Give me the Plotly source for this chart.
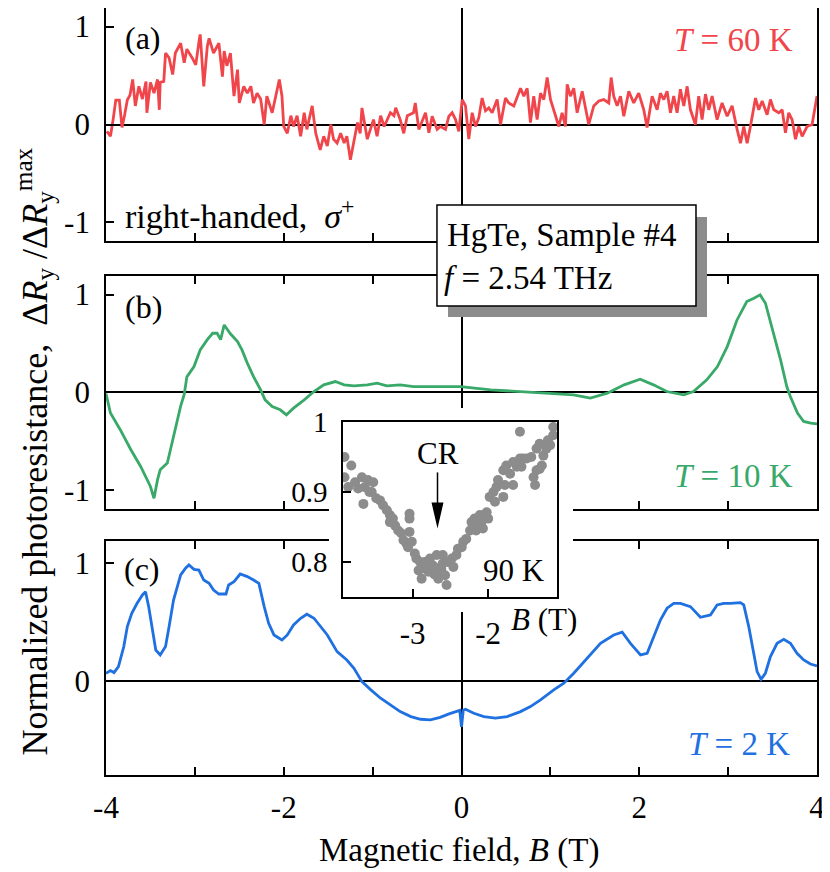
import plotly.graph_objects as go

# ---------------- data ----------------
# Panel (a): T = 60 K (red, noisy)
B_a = [-3.99, -3.95, -3.92, -3.89, -3.85, -3.82, -3.79, -3.76, -3.73, -3.70, -3.67, -3.63, -3.59, -3.55, -3.54,
       -3.50, -3.46, -3.42, -3.40, -3.39, -3.35, -3.33, -3.29, -3.25, -3.22, -3.16, -3.12, -3.09, -3.03, -2.99,
       -2.95, -2.94, -2.90, -2.86, -2.84, -2.79, -2.73, -2.69, -2.67, -2.64, -2.60, -2.56, -2.52, -2.50, -2.45,
       -2.41, -2.37, -2.34, -2.30, -2.26, -2.22, -2.19, -2.13, -2.05, -2.02, -2.00, -1.96, -1.92, -1.89, -1.85,
       -1.81, -1.77, -1.74, -1.68, -1.64, -1.59, -1.55, -1.51, -1.47, -1.44, -1.40, -1.36, -1.32, -1.29, -1.25,
       -1.17, -1.14, -1.12, -1.06, -1.02, -0.99, -0.95, -0.91, -0.87, -0.80, -0.76, -0.74, -0.69, -0.65, -0.61,
       -0.54, -0.52, -0.48, -0.405, -0.367, -0.33, -0.274, -0.236, -0.18, -0.142, -0.105, -0.067, -0.03, 0.008,
       0.045, 0.082, 0.12, 0.157, 0.195, 0.232, 0.27, 0.307, 0.345, 0.401, 0.439, 0.495, 0.532, 0.589, 0.626,
       0.664, 0.701, 0.739, 0.776, 0.813, 0.851, 0.889, 0.926, 0.964, 1.001, 1.038, 1.095, 1.132, 1.17, 1.189,
       1.226, 1.263, 1.301, 1.358, 1.395, 1.432, 1.488, 1.545, 1.601, 1.657, 1.684, 1.713, 1.751, 1.789, 1.826,
       1.882, 1.938, 1.994, 2.051, 2.088, 2.145, 2.201, 2.238, 2.276, 2.313, 2.351, 2.388, 2.426, 2.463, 2.501,
       2.539, 2.576, 2.632, 2.669, 2.707, 2.745, 2.782, 2.82, 2.876, 2.932, 2.989, 3.045, 3.101, 3.139, 3.176,
       3.214, 3.251, 3.308, 3.345, 3.383, 3.439, 3.476, 3.514, 3.57, 3.608, 3.645, 3.682, 3.72, 3.758, 3.795,
       3.833, 3.889, 3.945, 4.0]
R_a = [-0.07, -0.12, 0.05, 0.25, 0.25, -0.03, 0.10, 0.25, 0.30, 0.46, 0.19, 0.39, 0.26, 0.44, 0.12,
       0.43, 0.32, 0.46, 0.15, 0.43, 0.44, 0.73, 0.68, 0.51, 0.73, 0.83, 0.63, 0.77, 0.68, 0.61,
       0.87, 0.92, 0.39, 0.80, 0.88, 0.73, 0.83, 0.49, 0.75, 0.60, 0.73, 0.29, 0.56, 0.22, 0.39,
       0.32, 0.39, 0.22, 0.32, 0.26, 0.00, 0.29, 0.12, 0.46, 0.29, -0.02, -0.09, 0.09, -0.02, 0.09,
       -0.12, 0.12, -0.05, 0.19, -0.09, -0.26, -0.12, -0.22, 0.00, -0.15, -0.19, -0.09, -0.19, -0.12, -0.36,
       0.02, -0.09, 0.17, -0.15, -0.02, 0.05, -0.12, 0.09, -0.02, 0.12, 0.09, 0.17, 0.05, -0.09, 0.09,
       0.12, 0.22, -0.05, 0.12, -0.085, 0.085, -0.05, -0.02, -0.05, 0.085, 0.12, 0.05, -0.07, 0.255,
       0.19, -0.15, 0.12, -0.02, 0.07, 0.27, 0.14, 0.17, 0.12, 0.255, 0.00, 0.27, 0.22, 0.19, 0.27,
       0.37, 0.29, 0.37, 0.02, 0.29, 0.05, 0.32, 0.255, 0.48, 0.255, 0.15, -0.02, 0.12, -0.02, 0.41,
       0.29, 0.37, 0.12, 0.34, 0.15, 0.00, 0.19, 0.24, 0.255, 0.22, 0.48, 0.29, 0.19, 0.29, 0.085,
       0.34, 0.22, 0.32, 0.15, -0.03, 0.29, 0.15, 0.32, 0.255, 0.34, 0.12, 0.29, 0.12, 0.36, 0.19,
       0.39, 0.15, 0.00, 0.29, 0.05, 0.31, 0.15, 0.29, 0.05, 0.22, 0.085, 0.19, -0.05, -0.19, -0.02,
       -0.19, -0.02, 0.27, 0.15, 0.24, 0.10, 0.255, 0.15, 0.12, 0.15, -0.085, 0.12, 0.05, -0.15, -0.02,
       -0.12, -0.02, 0.00, 0.29]

# Panel (b): T = 10 K (green)
B_b = [-4.0, -3.95, -3.84, -3.72, -3.61, -3.50, -3.46, -3.42, -3.39, -3.31, -3.24, -3.16, -3.12, -3.09,
       -3.01, -2.94, -2.86, -2.80, -2.75, -2.71, -2.67, -2.60, -2.52, -2.47, -2.41, -2.34, -2.26, -2.21,
       -2.13, -2.04, -1.97, -1.89, -1.77, -1.66, -1.55, -1.42, -1.32, -1.21, -1.06, -0.95, -0.84, -0.69,
       -0.54, -0.39, -0.24, -0.01, 0.33, 0.70, 1.08, 1.26, 1.45, 1.64, 1.83, 2.01, 2.16, 2.31, 2.50,
       2.61, 2.76, 2.88, 2.99, 3.10, 3.21, 3.29, 3.36, 3.42, 3.51, 3.59, 3.66, 3.70, 3.78, 3.85, 3.93, 4.0]
R_b = [-0.01, -0.21, -0.38, -0.585, -0.755, -0.96, -1.08, -0.89, -0.79, -0.72, -0.45, -0.14, -0.02, 0.16,
       0.265, 0.435, 0.54, 0.605, 0.605, 0.54, 0.69, 0.60, 0.52, 0.435, 0.30, 0.163, 0.027, -0.075,
       -0.143, -0.177, -0.228, -0.16, -0.075, 0.01, 0.078, 0.112, 0.078, 0.068, 0.078, 0.095, 0.068, 0.078,
       0.061, 0.061, 0.061, 0.061, 0.027, 0.01, -0.014, -0.024, -0.058, -0.007, 0.078, 0.136, 0.078, 0.01, -0.024,
       0.01, 0.129, 0.265, 0.469, 0.741, 0.929, 0.963, 0.997, 0.912, 0.605, 0.333, 0.061, -0.041, -0.211, -0.296,
       -0.313, -0.32]

# Panel (c): T = 2 K (blue)
B_c = [-4.0, -3.95, -3.91, -3.86, -3.80, -3.76, -3.71, -3.65, -3.59, -3.555, -3.52, -3.48, -3.44, -3.39,
       -3.33, -3.29, -3.24, -3.16, -3.105, -3.067, -3.01, -2.955, -2.90, -2.84, -2.79, -2.73, -2.65, -2.62,
       -2.56, -2.49, -2.41, -2.34, -2.28, -2.22, -2.17, -2.11, -2.02, -1.96, -1.89, -1.81, -1.74, -1.66,
       -1.59, -1.51, -1.40, -1.29, -1.21, -1.12, -1.02, -0.91, -0.80, -0.69, -0.57, -0.46, -0.35, -0.24,
       -0.14, -0.05, -0.02, 0.0, 0.02, 0.045, 0.139, 0.251, 0.382, 0.514, 0.664, 0.776, 0.889, 1.038, 1.151,
       1.263, 1.414, 1.564, 1.713, 1.808, 1.901, 2.014, 2.089, 2.163, 2.238, 2.313, 2.388, 2.463, 2.576,
       2.688, 2.801, 2.876, 2.951, 3.026, 3.138, 3.176, 3.232, 3.288, 3.326, 3.371, 3.419, 3.476, 3.551,
       3.626, 3.701, 3.775, 3.851, 3.926, 4.0]
R_c = [0.065, 0.088, 0.071, 0.122, 0.292, 0.462, 0.575, 0.66, 0.731, 0.759, 0.632, 0.433, 0.263, 0.221,
       0.292, 0.462, 0.688, 0.901, 0.958, 0.986, 0.949, 0.943, 0.858, 0.83, 0.773, 0.739, 0.739, 0.816,
       0.844, 0.909, 0.887, 0.858, 0.83, 0.632, 0.49, 0.391, 0.348, 0.391, 0.476, 0.533, 0.567, 0.533,
       0.462, 0.391, 0.249, 0.178, 0.108, -0.006, -0.076, -0.147, -0.204, -0.261, -0.303, -0.326, -0.331, -0.31,
       -0.28, -0.255, -0.25, -0.39, -0.25, -0.241, -0.275, -0.303, -0.317, -0.303, -0.261, -0.218, -0.161, -0.076, -0.02,
       0.065, 0.193, 0.32, 0.391, 0.414, 0.32, 0.221, 0.235, 0.377, 0.518, 0.618, 0.66, 0.66, 0.632,
       0.541, 0.561, 0.646, 0.66, 0.66, 0.666, 0.646, 0.462, 0.235, 0.079, 0.014, 0.065, 0.207, 0.32,
       0.354, 0.32, 0.235, 0.178, 0.144, 0.127]

# Inset: 90 K (gray points)
B_in = [-3.90, -3.81, -3.90, -3.85, -3.76, -3.67, -3.63, -3.59, -3.52, -3.65, -3.54, -3.48, -3.43, -3.39,
        -3.34, -3.30, -3.30, -3.26, -3.23, -3.19, -3.15, -3.12, -3.08, -3.04, -3.06, -3.01, -3.04, -3.04,
        -2.95, -2.90, -2.86, -2.88, -2.82, -2.79, -2.77, -2.73, -2.68, -2.68, -2.64, -2.66, -2.60, -2.57,
        -2.55, -2.60, -2.53, -2.48, -2.46, -2.42, -2.40, -2.35, -2.33, -2.29, -2.24, -2.22, -2.18, -2.15,
        -2.11, -2.09, -2.07, -2.02, -2.00, -1.98, -1.93, -1.91, -1.89, -1.87, -1.80, -1.78, -1.80, -1.76,
        -1.71, -1.67, -1.67, -1.62, -1.58, -1.56, -1.54, -1.49, -1.43, -1.40, -1.38, -1.36, -1.32, -1.29,
        -1.27, -1.23, -1.18, -1.14, -1.14, -1.21, -1.32, -1.36, -1.58, -2.97, -2.92, -2.84, -2.20, -2.13,
        -2.16, -3.72, -3.57, -2.71, -2.62]
R_in = [0.950, 0.938, 0.921, 0.907, 0.914, 0.921, 0.907, 0.917, 0.914, 0.883, 0.900, 0.891, 0.888, 0.881,
        0.874, 0.867, 0.857, 0.862, 0.852, 0.845, 0.841, 0.831, 0.826, 0.843, 0.821, 0.829, 0.869, 0.862,
        0.805, 0.800, 0.791, 0.776, 0.795, 0.786, 0.805, 0.795, 0.810, 0.791, 0.786, 0.776, 0.798, 0.781,
        0.767, 0.810, 0.800, 0.805, 0.793, 0.810, 0.819, 0.821, 0.829, 0.833, 0.845, 0.857, 0.862, 0.850,
        0.867, 0.857, 0.848, 0.871, 0.862, 0.893, 0.900, 0.886, 0.907, 0.917, 0.893, 0.910, 0.931, 0.938,
        0.926, 0.943, 0.910, 0.936, 0.948, 0.936, 0.948, 0.948, 0.950, 0.921, 0.910, 0.931, 0.933, 0.938,
        0.952, 0.962, 0.967, 0.981, 0.993, 0.974, 0.969, 0.962, 0.986, 0.812, 0.788, 0.800, 0.852, 0.860,
        0.845, 0.905, 0.900, 0.782, 0.790]

X_TICKS = [-4, -2, 0, 2, 4]
X_TICKTEXT = ["-4", "-2", "0", "2", "4"]
Y_TICKS = [-1, 0, 1]
Y_TICKTEXT = ["-1", "0", "1"]
IN_XTICKS = [-3, -2]
IN_XTEXT = ["-3", "-2"]
IN_YTICKS = [0.8, 0.9, 1.0]
IN_YTEXT = ["0.8", "0.9", "1"]

RED = "#f0454a"
GREEN = "#38a968"
BLUE = "#1f70e0"
GRAY = "#8c8c8c"
FONT = "Liberation Serif, Times New Roman, serif"

fig = go.Figure()
fig.add_trace(go.Scatter(x=B_a, y=R_a, mode="lines", line=dict(color=RED, width=2.8), xaxis="x", yaxis="y"))
fig.add_trace(go.Scatter(x=B_b, y=R_b, mode="lines", line=dict(color=GREEN, width=2.8), xaxis="x2", yaxis="y2"))
fig.add_trace(go.Scatter(x=B_c, y=R_c, mode="lines", line=dict(color=BLUE, width=2.8), xaxis="x3", yaxis="y3"))
# white mask region behind the inset (empty subplot whose background hides what is under it)
fig.add_trace(go.Scatter(x=[], y=[], mode="lines", xaxis="x4", yaxis="y4"))
fig.add_trace(go.Scatter(x=B_in, y=R_in, mode="markers", marker=dict(color=GRAY, size=10),
                         xaxis="x5", yaxis="y5", cliponaxis=True))

axfont = dict(family=FONT, size=31, color="black")
minor = dict(ticks="inside", dtick=1, tick0=0, ticklen=8, tickwidth=1.5, tickcolor="black", showgrid=False)
common_x = dict(range=[-4, 4], tickvals=X_TICKS, ticktext=X_TICKTEXT, ticks="inside", ticklen=8,
                tickwidth=1.5, tickcolor="black", showline=True, linecolor="black", linewidth=1.8,
                zeroline=True, zerolinecolor="black", zerolinewidth=1.8, showgrid=False, tickfont=axfont,
                minor=minor, automargin=False)
common_y = dict(tickvals=Y_TICKS, ticktext=Y_TICKTEXT, ticks="inside", ticklen=8, tickwidth=1.5,
                tickcolor="black", showline=True, linecolor="black", linewidth=1.8, mirror=True,
                zeroline=True, zerolinecolor="black", zerolinewidth=1.8, showgrid=False, tickfont=axfont,
                ticklabelstandoff=8, automargin=False)

# the page body adds an 8 px offset; margins compensate so the plot area sits where the reference has it
fig.update_layout(
    width=830, height=872,
    margin=dict(l=98, r=21, t=0, b=105),
    paper_bgcolor="white", plot_bgcolor="white",
    showlegend=False, hovermode=False,
    font=dict(family=FONT, size=29, color="black"),
    xaxis=dict(common_x, domain=[0, 1], anchor="y", mirror=True, showticklabels=False),
    yaxis=dict(common_y, domain=[0.6962, 1.0], range=[-1.19, 1.19], anchor="x"),
    xaxis2=dict(common_x, domain=[0, 1], anchor="y2", mirror="ticks", showticklabels=False),
    yaxis2=dict(common_y, domain=[0.3468, 0.6506], range=[-1.19, 1.19], anchor="x2"),
    xaxis3=dict(common_x, domain=[0, 1], anchor="y3", mirror="ticks", showticklabels=True,
                ticklabelstandoff=4),
    yaxis3=dict(common_y, domain=[0.0, 0.3051], range=[-0.80, 1.19], anchor="x3"),
    xaxis4=dict(domain=[0.3136, 0.6568], anchor="y4", visible=False, range=[0, 1], automargin=False),
    yaxis4=dict(domain=[0.2125, 0.4785], anchor="x4", visible=False, range=[0, 1], automargin=False),
    xaxis5=dict(domain=[0.3333, 0.6343], anchor="y5", range=[-3.92, -1.09], tickvals=IN_XTICKS,
                ticktext=IN_XTEXT, ticks="inside", ticklen=8, tickwidth=1.5, tickcolor="black",
                showline=True, linecolor="black", linewidth=1.5, mirror=True, showgrid=False,
                zeroline=False, tickfont=axfont, ticklabelstandoff=8, automargin=False),
    yaxis5=dict(domain=[0.2321, 0.4602], anchor="x5", range=[0.75, 1.0], tickvals=IN_YTICKS,
                ticktext=IN_YTEXT, ticks="inside", ticklen=8, tickwidth=1.5, tickcolor="black",
                showline=True, linecolor="black", linewidth=1.5, mirror=True, showgrid=False,
                zeroline=False, tickfont=dict(axfont, size=29), ticklabelstandoff=8, automargin=False),
)

shapes = [
    # shadow and box of the sample label
    dict(type="rect", xref="paper", yref="paper", x0=0.4810, x1=0.8453, y0=0.5971, y1=0.7275,
         fillcolor=GRAY, line=dict(width=0), layer="above"),
    dict(type="rect", xref="paper", yref="paper", x0=0.4655, x1=0.8298, y0=0.6115, y1=0.7432,
         fillcolor="white", line=dict(color="black", width=1.5), layer="above"),
    # CR arrow in the inset
    dict(type="line", xref="x5", yref="y5", x0=-2.67, x1=-2.67, y0=0.928, y1=0.88,
         line=dict(color="black", width=1.5), layer="above"),
    dict(type="path", xref="x5", yref="y5", xsizemode="pixel", ysizemode="pixel",
         xanchor=-2.67, yanchor=0.848, path="M0,0 L-6,26 L6,26 Z",
         fillcolor="black", line=dict(width=0), layer="above"),
]
fig.update_layout(shapes=shapes)

def ann(text, x, y, size=29, color="black", xanchor="left", xref="paper", yref="paper", **kw):
    return dict(text=text, x=x, y=y, xref=xref, yref=yref, showarrow=False, xanchor=xanchor,
                yanchor="middle", font=dict(family=FONT, size=size, color=color), **kw)

annotations = [
    ann("(a)", 0.0239, 0.961, size=32),
    ann("<i>T</i> = 60 K", 0.969, 0.958, size=33, color=RED, xanchor="right"),
    ann("right-handed,  <i>σ</i><sup>+</sup>", 0.0239, 0.7314, size=34),
    ann("HgTe, Sample #4", 0.4768, 0.704, size=33),
    ann("<i>f</i> = 2.54 THz", 0.4725, 0.648, size=33),
    ann("(b)", 0.0239, 0.6102, size=32),
    ann("<i>T</i> = 10 K", 0.969, 0.3898, size=33, color=GREEN, xanchor="right"),
    ann("(c)", 0.0225, 0.2686, size=32),
    ann("<i>T</i> = 2 K", 0.965, 0.0404, size=33, color=BLUE, xanchor="right"),
    ann("CR", -2.66, 0.955, size=31, xanchor="center", xref="x5", yref="y5"),
    ann("90 K", -1.66, 0.788, size=31, xanchor="center", xref="x5", yref="y5"),
    ann("<i>B</i> (T)", 0.5668, 0.2021, size=31),
    ann("Magnetic field, <i>B</i> (T)", 0.4965, -0.0978, size=33, xanchor="center"),
    ann("Normalized photoresistance,  Δ<i>R</i><sub>y</sub> /Δ<i>R</i><sub>y</sub><sup>max</sup>",
        -0.1005, 0.4211, size=36, xanchor="center", textangle=-90),
]
fig.update_layout(annotations=annotations)

fig.write_html("out.html")
